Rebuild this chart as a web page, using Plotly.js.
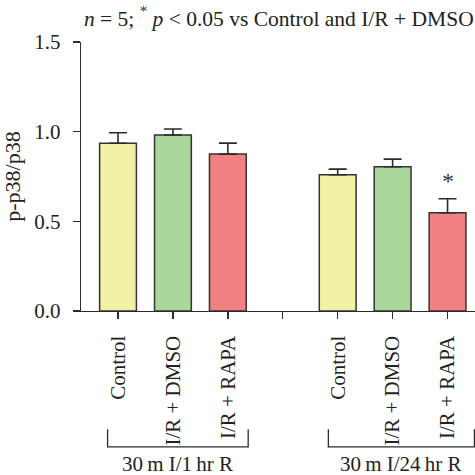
<!DOCTYPE html>
<html><head><meta charset="utf-8">
<script src="https://cdn.plot.ly/plotly-3.0.1.min.js"></script>
<style>body{margin:0;background:#fff}#c{width:475px;height:475px}</style>
</head><body><div id="c"></div>
<script>
const categories = ["Control","I/R + DMSO","I/R + RAPA","","Control","I/R + DMSO","I/R + RAPA"];
const positions = [0,1,2,3,4,5,6];
const barPos = [0,1,2,4,5,6];
const values = [0.935,0.981,0.875,0.760,0.804,0.548];
const errors = [0.059,0.034,0.061,0.031,0.043,0.078];
const colors = ["#f3f1a6","#a9d69a","#f28282","#f3f1a6","#a9d69a","#f28282"];
const groupLabels = ["30\u2009m I/1\u2009hr R","30\u2009m I/24\u2009hr R"];
const groupSpans = [[-0.19,2.37],[3.83,6.49]];
const sigIndex = 5;
const titleText = "<i>n</i> = 5; <sup>*</sup> <i>p</i> &lt; 0.05 vs Control and I/R + DMSO";

const font = "Liberation Serif, Times New Roman, serif";
const ink = "#2b2b2b";

const trace = {
  type: "bar", x: barPos, y: values, width: 0.67,
  marker: {color: colors, line: {color: "#333", width: 1.5}},
  error_y: {type: "data", array: errors, arrayminus: errors.map(() => 0), symmetric: false,
            color: ink, thickness: 1.6, width: 9},
  hoverinfo: "none", showlegend: false
};

const shapes = [];
const annotations = [];
groupSpans.forEach((s, i) => {
  shapes.push({type: "path", xref: "x", yref: "paper",
    path: `M ${s[0]} -0.44 L ${s[0]} -0.505 L ${s[1]} -0.505 L ${s[1]} -0.44`,
    line: {color: ink, width: 1.3}});
  annotations.push({xref: "x", yref: "paper", x: (s[0] + s[1]) / 2, y: -0.515,
    yanchor: "top", text: groupLabels[i], showarrow: false,
    font: {family: font, size: 21, color: "#222"}});
});
annotations.push({xref: "x", yref: "y", x: barPos[sigIndex], y: values[sigIndex] + errors[sigIndex],
  yanchor: "bottom", yshift: 3, text: "*", showarrow: false,
  font: {family: font, size: 24, color: "#333"}});

const layout = {
  width: 475, height: 475,
  margin: {l: 81, r: 0, t: 42, b: 164},
  paper_bgcolor: "#fff", plot_bgcolor: "#fff",
  font: {family: font, color: "#222", size: 21},
  title: {text: titleText, x: 0.587, xref: "container", xanchor: "center",
          y: 0.978, yref: "container", yanchor: "top",
          font: {family: font, size: 21.5, color: "#222"}},
  xaxis: {range: [-0.674, 6.5], tickvals: positions, ticktext: categories,
          tickangle: -90, ticks: "outside", ticklen: 7, tickwidth: 1.3, tickcolor: ink,
          showline: true, linecolor: ink, linewidth: 1.3, showgrid: false, zeroline: false,
          ticklabelstandoff: 8, tickfont: {family: font, size: 21, color: "#222"}},
  yaxis: {range: [0, 1.5], tickvals: [0, 0.5, 1.0, 1.5], ticktext: ["0.0","0.5","1.0","1.5"],
          ticks: "outside", ticklen: 7, tickwidth: 1.3, tickcolor: ink,
          showline: true, linecolor: ink, linewidth: 1.3, showgrid: false, zeroline: false,
          ticklabelstandoff: 8, tickfont: {family: font, size: 21, color: "#222"},
          title: {text: "p-p38/p38", standoff: 8, font: {family: font, size: 22, color: "#222"}}},
  shapes: shapes, annotations: annotations, bargap: 0.33
};
Plotly.newPlot("c", [trace], layout, {displayModeBar: false, staticPlot: true});
</script></body></html>
